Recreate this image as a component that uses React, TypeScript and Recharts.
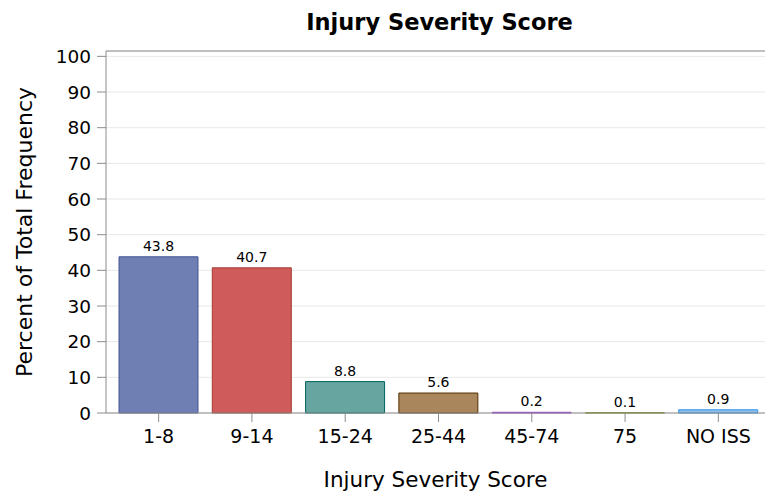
import React from 'react';
import {
  BarChart,
  Bar,
  Cell,
  XAxis,
  YAxis,
  CartesianGrid,
  LabelList,
  Label,
  ReferenceLine
} from 'recharts';

const categories = ['1-8', '9-14', '15-24', '25-44', '45-74', '75', 'NO ISS'];
const percents = [43.8, 40.7, 8.8, 5.6, 0.2, 0.1, 0.9];
const yTicks = [0, 10, 20, 30, 40, 50, 60, 70, 80, 90, 100];

const fills = ['#6F7EB3', '#D05B5B', '#66A5A0', '#A9865B', '#B689CD', '#BABC5C', '#94BDE1'];
const outlines = ['#445694', '#A23A2E', '#01665E', '#543005', '#9D3CDB', '#7F8E1F', '#2597FA'];

const data = categories.map((name, i) => ({ name, value: percents[i] }));

const FONT = '"DejaVu Sans", Verdana, sans-serif';
const AXIS = '#8c8c8c';

const App: React.FC = () => {
  return (
    <div style={{ position: 'absolute', left: 0, top: 0, width: 765, height: 493, background: '#fff', fontFamily: FONT }}>
      <div
        style={{
          position: 'absolute',
          top: 8,
          left: 110,
          width: 659,
          textAlign: 'center',
          fontSize: 22.5,
          lineHeight: '28px',
          fontWeight: 'bold',
          color: '#000'
        }}
      >
        Injury Severity Score
      </div>
      <BarChart
        width={765}
        height={493}
        data={data}
        margin={{ top: 51, right: 0, bottom: 0, left: 0 }}
      >
        <CartesianGrid vertical={false} stroke="#e8e8e8" />
        <XAxis
          dataKey="name"
          height={80}
          padding={{ left: 6, right: 0 }}
          tickSize={9}
          tickMargin={8}
          stroke={AXIS}
          tick={{ fill: '#000', fontSize: 19, fontFamily: FONT }}
        >
          <Label
            value="Injury Severity Score"
            position="insideBottom"
            offset={6}
            style={{ fill: '#000', fontSize: 21.5, fontFamily: FONT }}
          />
        </XAxis>
        <YAxis
          width={106}
          domain={[0, 101.5]}
          ticks={yTicks}
          interval={0}
          tickSize={9}
          tickMargin={6}
          stroke={AXIS}
          tick={{ fill: '#000', fontSize: 18.5, fontFamily: FONT }}
        >
          <Label
            value="Percent of Total Frequency"
            angle={-90}
            position="insideLeft"
            offset={24}
            style={{ fill: '#000', fontSize: 22, fontFamily: FONT, textAnchor: 'middle' }}
          />
        </YAxis>
        <ReferenceLine y={101.5} stroke={AXIS} strokeWidth={1} />
        <Bar dataKey="value" barSize={79} isAnimationActive={false}>
          {data.map((d, i) => (
            <Cell key={d.name} fill={fills[i]} stroke={outlines[i]} strokeWidth={1} />
          ))}
          <LabelList
            dataKey="value"
            position="top"
            offset={6}
            style={{ fill: '#000', fontSize: 14, fontFamily: FONT }}
          />
        </Bar>
      </BarChart>
    </div>
  );
};

export default App;
